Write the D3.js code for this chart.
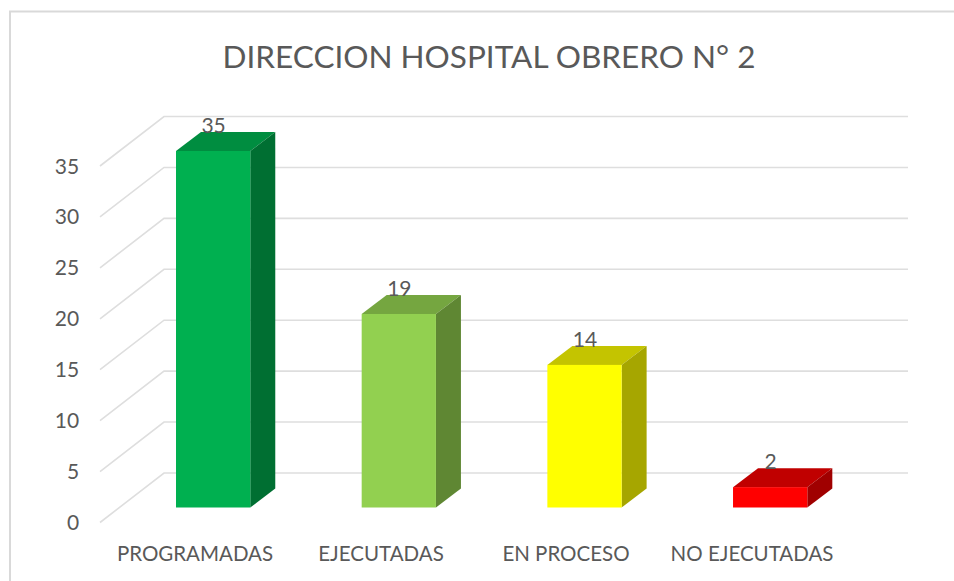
<!DOCTYPE html>
<html><head><meta charset="utf-8">
<script src="https://cdn.jsdelivr.net/npm/d3@7"></script>
<style>html,body{margin:0;padding:0;background:#fff}svg{display:block}text{font-family:Lato,"Open Sans",sans-serif;fill:#595959}</style>
</head><body><svg id="c" width="954" height="581"></svg>
<script>
const titleText = "DIRECCION HOSPITAL OBRERO N° 2";
const categories = ["PROGRAMADAS","EJECUTADAS","EN PROCESO","NO EJECUTADAS"];
const values = [35,19,14,2];
const frontColors = ["#00b050","#92d050","#ffff00","#ff0000"];
const topColors = ["#008d40","#75a640","#c4c400","#c00000"];
const sideColors = ["#006f32","#5f8733","#a6a600","#a00000"];
const ticks = [0,5,10,15,20,25,30,35];

const svg = d3.select("#c");
const depthX = 25, depthY = -19;
const y = d3.scaleLinear().domain([0,35]).range([507.5,151]);
const x = d3.scaleBand().domain(categories).range([120.3,863]).paddingInner(0.6).paddingOuter(0.3);
const gridLeft = 100, gridBack = 164, gridRight = 908;
const wallY = v => y(v) - 34.5;
const floorY = v => y(v) + 15;

// frame
svg.append("path").attr("d","M10,581V11.5H954").attr("fill","none").attr("stroke","#d9d9d9").attr("stroke-width",2);

// gridlines
const line = svg.append("g").attr("fill","none").attr("stroke","#dedede").attr("stroke-width",1.6);
line.selectAll("path").data(ticks).join("path")
  .attr("d",v=>`M${gridLeft},${floorY(v)}L${gridBack},${wallY(v)}H${gridRight}`);

// axis labels
svg.append("g").selectAll("text").data(ticks).join("text")
  .attr("y",v=>floorY(v)+7.5).attr("font-size",21).text(d=>d)
  .attr("x",v=>v<10?73:67).attr("text-anchor","middle");

// bars
const bars = svg.append("g").selectAll("g").data(categories).join("g");
bars.append("path").attr("fill",(d,i)=>topColors[i]).attr("d",(d,i)=>{
  const a=x(d),b=a+x.bandwidth(),t=y(values[i]);
  return `M${a},${t}L${a+depthX},${t+depthY}H${b+depthX}L${b},${t}Z`;});
bars.append("path").attr("fill",(d,i)=>sideColors[i]).attr("d",(d,i)=>{
  const b=x(d)+x.bandwidth(),t=y(values[i]),f=y(0);
  return `M${b},${t}L${b+depthX},${t+depthY}V${f+depthY}L${b},${f}Z`;});
bars.append("rect").attr("fill",(d,i)=>frontColors[i])
  .attr("x",d=>x(d)).attr("width",x.bandwidth())
  .attr("y",(d,i)=>y(values[i])).attr("height",(d,i)=>y(0)-y(values[i]));
bars.append("text").attr("text-anchor","middle").attr("font-size",21)
  .attr("x",d=>x(d)+x.bandwidth()/2+0.5).attr("y",(d,i)=>y(values[i])-18).text((d,i)=>values[i]);

// category labels
svg.append("g").selectAll("text").data(categories).join("text")
  .attr("x",(d,i)=>[195,381,566,752][i]).attr("y",561).attr("text-anchor","middle").attr("font-size",20.5).text(d=>d);

svg.append("text").attr("x",489).attr("y",68).attr("text-anchor","middle").attr("font-size",31.5).text(titleText);
</script></body></html>
